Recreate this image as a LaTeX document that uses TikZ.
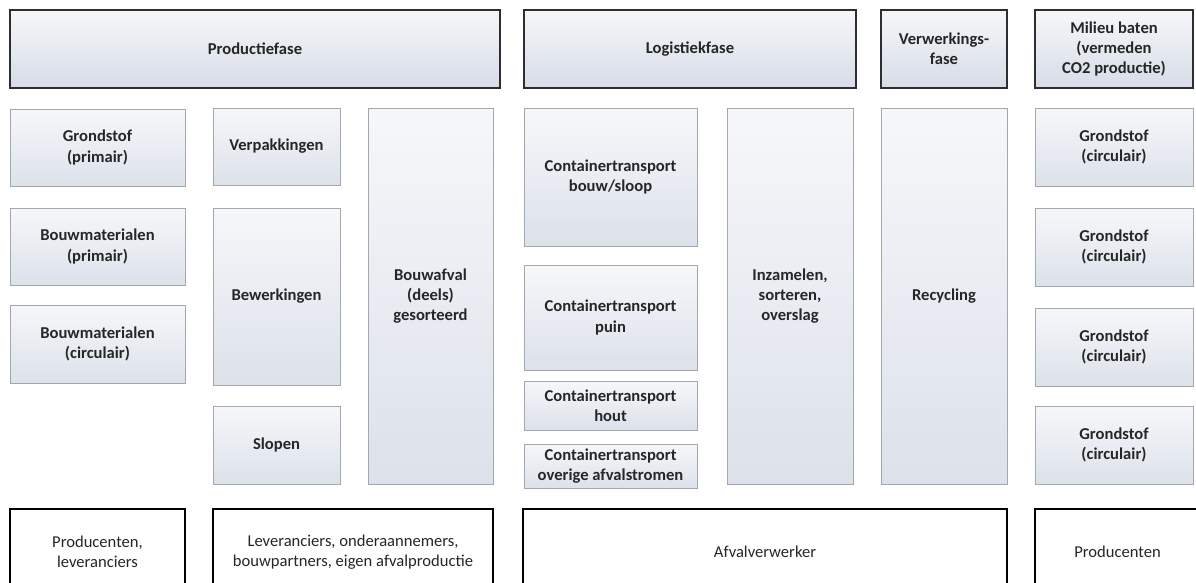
\documentclass[tikz,border=0pt]{standalone}
\usepackage{fontspec}
\setmainfont{Carlito}
\definecolor{randdonker}{HTML}{2E2E2E}
\definecolor{randgrijs}{HTML}{A3A7AE}
\definecolor{vulboven}{HTML}{F6F7F9}
\definecolor{vulonder}{HTML}{D6DCE7}
\definecolor{tekst}{HTML}{262626}
\newcommand\letter{\fontsize{11.8}{14.5}\selectfont}
\tikzset{
  fase/.style={draw=randdonker,line width=1.3pt,top color=vulboven,bottom color=vulonder,
    align=center,text=tekst,font=\letter\bfseries,inner sep=2pt},
  stap/.style={draw=randgrijs,line width=0.6pt,top color=vulboven,bottom color=vulonder!85!white,
    align=center,text=tekst,font=\letter\bfseries,inner sep=2pt},
  partij/.style={draw=black,line width=1pt,fill=white,align=center,text=tekst,font=\letter,inner sep=2pt}
}
\begin{document}
\begin{tikzpicture}
      \clip (0,0) rectangle (29.9,-14.575);
      \fill[white] (0,0) rectangle (29.9,-14.575);
      % fasen
      \node[fase,minimum width=12.25cm,minimum height=1.95cm] (productie) at (6.375,-1.225) {Productiefase};
      \node[fase,minimum width=8.3cm,minimum height=1.95cm] (logistiek) at (17.25,-1.225) {Logistiekfase};
      \node[fase,minimum width=3.15cm,minimum height=1.95cm] (verwerking) at (23.6,-1.225) {Verwerkings-\\fase};
      \node[fase,minimum width=3.95cm,minimum height=1.95cm] (milieu) at (27.85,-1.225) {Milieu baten\\(vermeden\\CO2 productie)};
      % productiefase
      \node[stap,minimum width=4.375cm,minimum height=1.925cm] (grondprim) at (2.4375,-3.6875) {Grondstof\\(primair)};
      \node[stap,minimum width=4.375cm,minimum height=1.925cm] (bouwprim) at (2.4375,-6.1625) {Bouwmaterialen\\(primair)};
      \node[stap,minimum width=4.375cm,minimum height=1.95cm] (bouwcirc) at (2.4375,-8.6) {Bouwmaterialen\\(circulair)};
      \node[stap,minimum width=3.175cm,minimum height=1.925cm] (verpak) at (6.9125,-3.6625) {Verpakkingen};
      \node[stap,minimum width=3.175cm,minimum height=4.425cm] (bewerk) at (6.9125,-7.4125) {Bewerkingen};
      \node[stap,minimum width=3.175cm,minimum height=1.95cm] (slopen) at (6.9125,-11.125) {Slopen};
      \node[stap,minimum width=3.125cm,minimum height=9.4cm] (bouwafval) at (10.7625,-7.4) {Bouwafval\\(deels)\\gesorteerd};
      % logistiekfase
      \node[stap,minimum width=4.325cm,minimum height=3.45cm] (ctsloop) at (15.2625,-4.425) {Containertransport\\bouw/sloop};
      \node[stap,minimum width=4.325cm,minimum height=2.625cm] (ctpuin) at (15.2625,-7.9375) {Containertransport\\puin};
      \node[stap,minimum width=4.325cm,minimum height=1.225cm] (cthout) at (15.2625,-10.1375) {Containertransport\\hout};
      \node[stap,minimum width=4.325cm,minimum height=1.1cm] (ctoverig) at (15.2625,-11.65) {Containertransport\\overige afvalstromen};
      \node[stap,minimum width=3.15cm,minimum height=9.4cm] (inzamel) at (19.75,-7.4) {Inzamelen,\\sorteren,\\overslag};
      % verwerkingsfase
      \node[stap,minimum width=3.15cm,minimum height=9.4cm] (recycling) at (23.6,-7.4) {Recycling};
      % milieu baten
      \node[stap,minimum width=3.95cm,minimum height=1.95cm] (grondcirc1) at (27.85,-3.675) {Grondstof\\(circulair)};
      \node[stap,minimum width=3.95cm,minimum height=1.95cm] (grondcirc2) at (27.85,-6.175) {Grondstof\\(circulair)};
      \node[stap,minimum width=3.95cm,minimum height=1.95cm] (grondcirc3) at (27.85,-8.675) {Grondstof\\(circulair)};
      \node[stap,minimum width=3.95cm,minimum height=1.95cm] (grondcirc4) at (27.85,-11.125) {Grondstof\\(circulair)};
      % partijen
      \node[partij,minimum width=4.375cm,minimum height=2.15cm] (producenten) at (2.4375,-13.8) {Producenten,\\leveranciers};
      \node[partij,minimum width=7.0cm,minimum height=2.15cm] (leveranciers) at (8.825,-13.8) {Leveranciers, onderaannemers,\\bouwpartners, eigen afvalproductie};
      \node[partij,minimum width=12.1cm,minimum height=2.15cm] (afvalverwerker) at (19.125,-13.8) {Afvalverwerker};
      \node[partij,minimum width=4.125cm,minimum height=2.15cm] (afnemers) at (27.9375,-13.8) {Producenten};
    \end{tikzpicture}
\end{document}
